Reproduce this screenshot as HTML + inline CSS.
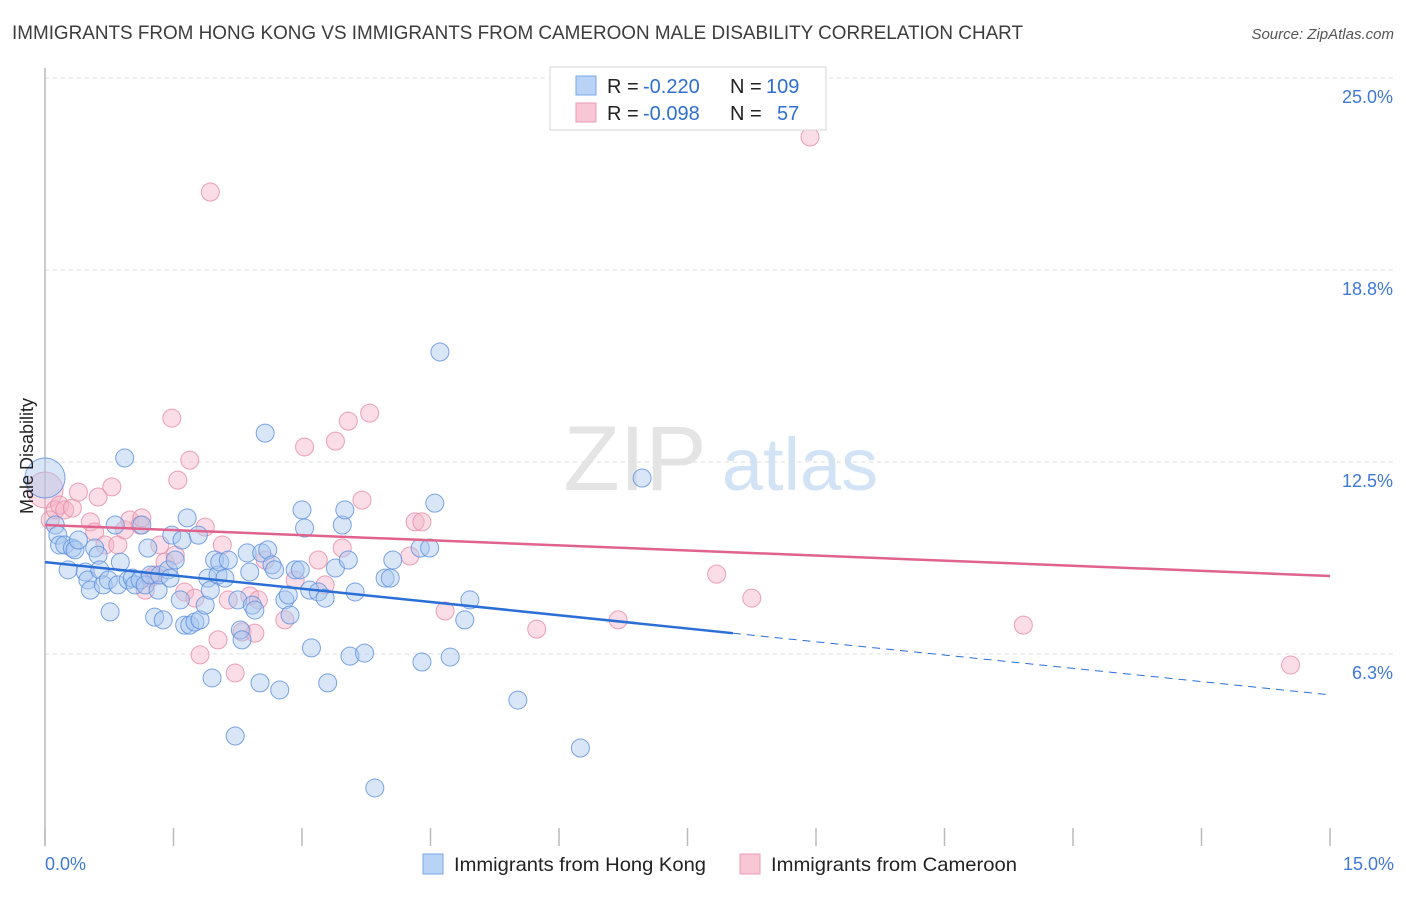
<!DOCTYPE html>
<html><head><meta charset="utf-8"><style>
body{margin:0;background:#fff;font-family:"Liberation Sans",sans-serif;}
svg text{font-family:"Liberation Sans",sans-serif;}
</style></head><body>
<svg id="chart" width="1406" height="892" viewBox="0 0 1406 892" xmlns="http://www.w3.org/2000/svg">
<text x="12" y="39" font-size="19" fill="#3c3c3c" textLength="1011" lengthAdjust="spacingAndGlyphs">IMMIGRANTS FROM HONG KONG VS IMMIGRANTS FROM CAMEROON MALE DISABILITY CORRELATION CHART</text>
<text x="1394" y="39" font-size="15" fill="#555" text-anchor="end" font-style="italic">Source: ZipAtlas.com</text>
<g><text x="635" y="490" font-size="92" fill="#e4e4e4" text-anchor="middle" font-family="Liberation Serif, serif">ZIP</text><text x="800" y="490" font-size="74" fill="#d3e3f6" text-anchor="middle">atlas</text></g>
<g id="grid"></g>
<g id="axes"></g>
<g id="pts"></g>
<g id="trend"></g>
<text transform="translate(33,456) rotate(-90)" font-size="18" fill="#222" text-anchor="middle">Male Disability</text>
<g>
<rect x="550" y="67" width="276" height="63" fill="#fff" stroke="#d6d6d6"/>
<rect x="576" y="76" width="20" height="19" fill="#b8d3f5" stroke="#7aa7e6"/>
<rect x="576" y="103" width="20" height="19" fill="#f9c6d6" stroke="#eb9bb5"/>
<text x="607" y="93" font-size="20" fill="#222">R = </text><text x="643" y="93" font-size="20" fill="#2f6fd1">-0.220</text>
<text x="730" y="93" font-size="20" fill="#222">N = </text><text x="766" y="93" font-size="20" fill="#2f6fd1">109</text>
<text x="607" y="120" font-size="20" fill="#222">R = </text><text x="643" y="120" font-size="20" fill="#2f6fd1">-0.098</text>
<text x="730" y="120" font-size="20" fill="#222">N = </text><text x="777" y="120" font-size="20" fill="#2f6fd1">57</text>
</g>
<g>
<rect x="423" y="854" width="20" height="20" fill="#b8d3f5" stroke="#7aa7e6"/>
<text x="454" y="871" font-size="19.5" fill="#222" textLength="252" lengthAdjust="spacingAndGlyphs">Immigrants from Hong Kong</text>
<rect x="740" y="854" width="20" height="20" fill="#f9c6d6" stroke="#eb9bb5"/>
<text x="771" y="871" font-size="19.5" fill="#222" textLength="246" lengthAdjust="spacingAndGlyphs">Immigrants from Cameroon</text>
</g>
</svg>
<script>
const yTicks=[25,18.75,12.5,6.25];
const yTickLabels=["25.0%","18.8%","12.5%","6.3%"];
const xTicks=[0,1.5,3,4.5,6,7.5,9,10.5,12,13.5,15];
const xEndLabels=["0.0%","15.0%"];
const hkX=[0.00,0.12,0.15,0.17,0.23,0.27,0.32,0.35,0.39,0.47,0.50,0.53,0.58,0.62,0.64,0.68,0.74,0.76,0.82,0.85,0.88,0.93,0.97,1.02,1.05,1.11,1.13,1.17,1.20,1.23,1.28,1.32,1.34,1.38,1.44,1.46,1.48,1.52,1.58,1.60,1.63,1.66,1.69,1.75,1.79,1.81,1.87,1.90,1.93,1.95,1.98,2.02,2.04,2.10,2.14,2.22,2.25,2.28,2.30,2.36,2.39,2.42,2.45,2.51,2.53,2.57,2.60,2.65,2.68,2.74,2.80,2.84,2.86,2.92,2.98,3.00,3.03,3.09,3.11,3.19,3.27,3.30,3.39,3.47,3.50,3.54,3.56,3.62,3.73,3.85,3.97,4.03,4.06,4.38,4.40,4.49,4.55,4.61,4.73,4.90,4.96,5.52,6.25,6.97];
const hkY=[11.98,10.45,10.12,9.80,9.80,8.99,9.70,9.64,9.96,8.92,8.66,8.33,9.70,9.47,8.99,8.50,8.66,7.62,10.45,8.50,9.24,12.63,8.66,8.72,8.50,8.66,10.45,8.50,9.70,8.82,7.45,8.33,8.82,7.36,8.99,8.72,10.12,9.31,8.01,9.96,7.19,10.68,7.19,7.29,10.12,7.36,7.84,8.72,8.33,5.47,9.31,8.82,9.24,8.72,9.31,3.58,8.01,7.03,6.71,9.54,8.92,7.84,7.68,5.31,9.54,13.44,9.64,9.15,8.99,5.08,8.01,8.17,7.52,8.99,8.99,10.94,10.35,8.33,6.45,8.27,8.07,5.31,9.05,10.45,10.94,9.31,6.18,8.27,6.28,1.89,8.72,8.72,9.31,9.70,5.99,9.70,11.16,16.08,6.15,7.36,8.01,4.75,3.19,11.98];
const cmX=[0.00,0.06,0.12,0.17,0.23,0.32,0.39,0.53,0.58,0.62,0.70,0.78,0.85,0.93,0.99,1.11,1.13,1.17,1.23,1.28,1.34,1.40,1.48,1.52,1.55,1.63,1.69,1.75,1.81,1.87,1.93,2.02,2.07,2.14,2.22,2.30,2.39,2.45,2.49,2.57,2.80,2.92,3.03,3.19,3.27,3.39,3.47,3.54,3.70,3.79,4.26,4.32,4.40,4.67,5.74,6.69,7.84,8.25,8.93,11.42,14.54];
const cmY=[11.59,10.61,10.94,11.10,10.94,11.00,11.52,10.55,10.22,11.36,9.80,11.69,9.80,10.29,10.61,10.45,10.68,8.33,8.72,8.82,9.80,9.24,13.93,9.47,11.91,8.27,12.56,8.07,6.22,10.38,21.29,6.71,9.80,8.01,5.63,6.97,8.14,6.93,8.01,9.31,7.36,8.66,12.99,9.31,8.50,13.18,9.70,13.83,11.26,14.09,9.44,10.55,10.55,7.65,7.06,7.36,8.85,8.07,23.08,7.19,5.89];
const hkTrend=[9.24,4.92];
const cmTrend=[10.45,8.79];
const hkSolidEnd=8.03;

const NS="http://www.w3.org/2000/svg";
const sx=v=>45+v*(1285/15);
const sy=v=>846-v*30.72;
function mk(tag,attrs,parent){const e=document.createElementNS(NS,tag);for(const k in attrs)e.setAttribute(k,attrs[k]);parent.appendChild(e);return e;}
const grid=document.getElementById('grid'),axes=document.getElementById('axes'),pts=document.getElementById('pts'),trend=document.getElementById('trend');
yTicks.forEach((t,i)=>{
  const l=mk('line',{x1:45,x2:1394,y1:sy(t),y2:sy(t),stroke:'#dedede','stroke-dasharray':'4,4'},grid);
  
  
  const tx=mk('text',{x:1393,y:sy(t)+25,'font-size':18,fill:'#3f78d8','text-anchor':'end'},grid);
  tx.textContent=yTickLabels[i];
  
  
});
const ya=mk('line',{x1:45,x2:45,y1:68,y2:846,stroke:'#bbb','stroke-width':1.5},axes);


xTicks.forEach(t=>{
  const l=mk('line',{x1:sx(t),x2:sx(t),y1:828,y2:846,stroke:'#bbb','stroke-width':1.5},axes);
  
  
});
const xl0=mk('text',{x:45,y:870,'font-size':18,fill:'#3f78d8'},axes);xl0.textContent=xEndLabels[0];


const xl1=mk('text',{x:1394,y:870,'font-size':18,fill:'#3f78d8','text-anchor':'end'},axes);xl1.textContent=xEndLabels[1];


function dots(X,Y,fill,stroke,name,bigR){
  X.forEach((x,i)=>{
    const r=(i===0)?bigR:9;
    const c=mk('circle',{cx:sx(x),cy:sy(Y[i]),r:r,fill:fill,'fill-opacity':0.45,stroke:stroke,'stroke-opacity':0.8,'stroke-width':1},pts);
    
    
  });
}
dots(cmX,cmY,'#f5b3c7','#e88aa8','cameroon-point',18);
dots(hkX,hkY,'#a9c8f0','#5b8fdf','hong-kong-point',20);
const hs=hkTrend[0]+(hkTrend[1]-hkTrend[0])*hkSolidEnd/15;
const t1=mk('line',{x1:sx(0),y1:sy(hkTrend[0]),x2:sx(hkSolidEnd),y2:sy(hs),stroke:'#2b6fd6','stroke-width':2.5},trend);


const t2=mk('line',{x1:sx(hkSolidEnd),y1:sy(hs),x2:sx(15),y2:sy(hkTrend[1]),stroke:'#2b6fd6','stroke-width':1,'stroke-dasharray':'8,6'},trend);


const t3=mk('line',{x1:sx(0),y1:sy(cmTrend[0]),x2:sx(15),y2:sy(cmTrend[1]),stroke:'#e0638e','stroke-width':2.5},trend);


</script>
</body></html>
